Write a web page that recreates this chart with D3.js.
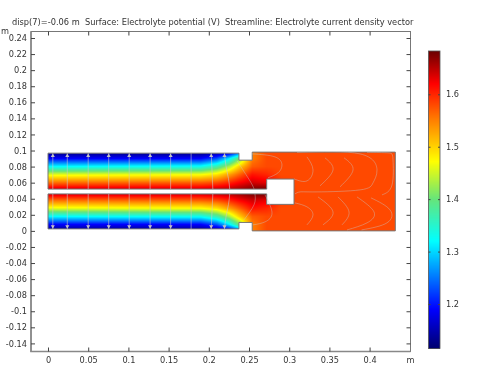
<!DOCTYPE html>
<html>
<head>
<meta charset="utf-8">
<script src="https://cdn.jsdelivr.net/npm/d3@7"></script>
<style>
  html, body { margin: 0; padding: 0; background: #fff; }
  #chart { position: relative; width: 482px; height: 366px; filter: blur(0.4px); }
  #chart canvas, #chart svg { position: absolute; left: 0; top: 0; }
  text { font-family: "DejaVu Sans", sans-serif; fill: #333; white-space: pre; }
</style>
</head>
<body>
<div id="chart">
  <canvas id="surface" width="482" height="366"></canvas>
  <svg id="plot" width="482" height="366"></svg>
</div>
<script>
const titleText = "disp(7)=-0.06 m  Surface: Electrolyte potential (V)  Streamline: Electrolyte current density vector";
const xTicks = [0, 0.05, 0.1, 0.15, 0.2, 0.25, 0.3, 0.35, 0.4];
const yTicks = [0.24, 0.22, 0.2, 0.18, 0.16, 0.14, 0.12, 0.1, 0.08, 0.06, 0.04, 0.02, 0,
  -0.02, -0.04, -0.06, -0.08, -0.1, -0.12, -0.14];
const barTicks = [1.2, 1.3, 1.4, 1.5, 1.6];

// colour bar stops, volts
const cmapV = [1.1155, 1.19, 1.255, 1.32, 1.4, 1.472, 1.55, 1.62, 1.683];
const cmapC = ["#00006f", "#0000ff", "#0080ff", "#00ffff", "#66e57a", "#ffff00", "#ff8000", "#ff0000", "#6a0000"];

// device outline in metres (channels, neck, block, hole)
const outline = [[0, .0967], [.2375, .0967], [.2375, .088], [.254, .088], [.254, .098], [.432, .098],
  [.432, 0], [.254, 0], [.254, .0105], [.2375, .0105], [.2375, .0025], [0, .0025], [0, .046],
  [.272, .046], [.272, .033], [.306, .033], [.306, .0645], [.272, .0645], [.272, .052], [0, .052]];

// potential at these positions
const gridX = [0, .19, .21, .225, .2375, .254, .272, .29, .31, .432];
const gridY = [.098, .09, .08, .07, .06, .052, .046, .038, .028, .018, .008, 0];
const v098 = [1.12, 1.12, 1.125, 1.15, 1.22, 1.55, 1.58, 1.58, 1.58, 1.58];
const v090 = [1.19, 1.19, 1.23, 1.31, 1.40, 1.55, 1.58, 1.58, 1.58, 1.58];
const v080 = [1.32, 1.33, 1.37, 1.43, 1.50, 1.57, 1.58, 1.58, 1.58, 1.58];
const v070 = [1.46, 1.47, 1.49, 1.53, 1.565, 1.61, 1.60, 1.58, 1.58, 1.58];
const v060 = [1.56, 1.57, 1.58, 1.60, 1.62, 1.64, 1.63, 1.59, 1.58, 1.58];
const v052 = [1.64, 1.64, 1.645, 1.65, 1.66, 1.675, 1.68, 1.60, 1.58, 1.58];
const v046 = [1.64, 1.64, 1.645, 1.65, 1.66, 1.675, 1.68, 1.60, 1.58, 1.58];
const v038 = [1.56, 1.57, 1.58, 1.60, 1.62, 1.64, 1.63, 1.59, 1.58, 1.58];
const v028 = [1.46, 1.47, 1.49, 1.53, 1.565, 1.61, 1.60, 1.58, 1.58, 1.58];
const v018 = [1.32, 1.33, 1.37, 1.43, 1.50, 1.57, 1.58, 1.58, 1.58, 1.58];
const v008 = [1.19, 1.19, 1.23, 1.31, 1.40, 1.55, 1.58, 1.58, 1.58, 1.58];
const v000 = [1.12, 1.12, 1.125, 1.15, 1.22, 1.55, 1.58, 1.58, 1.58, 1.58];
const potential = [v098, v090, v080, v070, v060, v052, v046, v038, v028, v018, v008, v000];

// streamlines in metres: channel ones, then the ones in the block
const channelLines = [
  [[.006, .0965], [.006, .052]], [[.024, .0965], [.024, .052]], [[.05, .0965], [.05, .052]],
  [[.0755, .0965], [.0755, .052]], [[.101, .0965], [.101, .052]], [[.127, .0965], [.127, .052]],
  [[.1525, .0965], [.1525, .052]], [[.178, .0965], [.178, .052]],
  [[.203, .0965], [.204, .075], [.205, .052]],
  [[.2195, .0965], [.2215, .08], [.2245, .065], [.226, .052]],
  [[.006, .0025], [.006, .046]], [[.024, .0025], [.024, .046]], [[.05, .0025], [.05, .046]],
  [[.0755, .0025], [.0755, .046]], [[.101, .0025], [.101, .046]], [[.127, .0025], [.127, .046]],
  [[.1525, .0025], [.1525, .046]], [[.178, .0025], [.178, .046]],
  [[.203, .0025], [.204, .024], [.205, .046]],
  [[.2195, .0025], [.2215, .018], [.2245, .033], [.226, .046]]
];
const blockLines = [
  [[.2351, .0871], [.2512, .0622], [.2562, .0523]],
  [[.2537, .0958], [.2823, .0921], [.291, .0821], [.2861, .0722], [.2736, .066]],
  [[.306, .0647], [.3221, .0622], [.3296, .0759], [.3221, .0921]],
  [[.3445, .0909], [.3545, .0759], [.3383, .056]],
  [[.3682, .0909], [.3794, .0759], [.3632, .0548]],
  [[.3097, .0977], [.3881, .0958], [.4092, .0759], [.4042, .0597], [.3881, .051], [.3346, .0485], [.3134, .0485], [.3072, .046]],
  [[.3968, .0977], [.4229, .0971], [.4291, .0884], [.4279, .0572], [.4154, .0448]],
  [[.2437, .0137], [.2562, .0324], [.2574, .046]],
  [[.2699, .0448], [.2786, .0224], [.2699, .0112], [.255, .0075]],
  [[.3072, .0348], [.3221, .0299], [.3296, .0199], [.3221, .0075]],
  [[.3358, .0423], [.3545, .0236], [.342, .0075]],
  [[.3607, .0423], [.3744, .0236], [.3657, .0075]],
  [[.3843, .0423], [.4055, .0236], [.3968, .01], [.3719, .0012]],
  [[.4017, .0411], [.4254, .0261], [.4216, .01], [.39, .0012]]
];
// where the arrowheads sit along the channels
const arrowX = [.006, .024, .05, .0755, .101, .127, .1525, .203, .2195];

const svg = d3.select("#plot");
const box = { left: 31, right: 410.5, top: 31.5, bottom: 351.5 };

const x = d3.scaleLinear().domain([0, 0.4]).range([48, 369.6]);
const y = d3.scaleLinear().domain([0.24, -0.14]).range([38, 343.4]);
const barY = d3.scaleLinear().domain([1.6, 1.2]).range([94.3, 304]);
const color = d3.scaleLinear().domain(cmapV).range(cmapC).interpolate(d3.interpolateRgb).clamp(true);

function potentialAt(mx, my) {
  const i = Math.min(gridX.length - 2, Math.max(0, d3.bisectRight(gridX, mx) - 1));
  let j = 0;
  while (j < gridY.length - 2 && my < gridY[j + 1]) j++;
  const tx = (mx - gridX[i]) / (gridX[i + 1] - gridX[i]);
  const ty = Math.max(0, Math.min(1, (gridY[j] - my) / (gridY[j] - gridY[j + 1])));
  const a = potential[j][i] * (1 - tx) + potential[j][i + 1] * tx;
  const b = potential[j + 1][i] * (1 - tx) + potential[j + 1][i + 1] * tx;
  return a * (1 - ty) + b * ty;
}

const line = d3.line().x(d => x(d[0])).y(d => y(d[1]));
const smooth = d3.line().x(d => x(d[0])).y(d => y(d[1])).curve(d3.curveNatural);

// surface + colour bar go on the canvas
const ctx = document.getElementById("surface").getContext("2d");
ctx.save();
ctx.clip(new Path2D(line(outline) + "Z"));
for (let px = Math.floor(x(0)); px < x(.432) + 1; px++) {
  for (let py = Math.floor(y(.098)); py < y(0) + 1; py++) {
    ctx.fillStyle = color(potentialAt(x.invert(px + .5), y.invert(py + .5)));
    ctx.fillRect(px, py, 1, 1);
  }
}
ctx.restore();
for (let py = 51; py < 348.5; py++) {
  ctx.fillStyle = color(barY.invert(py + .5));
  ctx.fillRect(428.5, py, 11.5, 1);
}

// frame
svg.append("rect")
  .attr("x", box.left).attr("y", box.top)
  .attr("width", box.right - box.left).attr("height", box.bottom - box.top)
  .attr("fill", "none").attr("stroke", "#777").attr("stroke-width", 1);
svg.append("path")
  .attr("d", `M${box.left},${box.top}V${box.bottom}H${box.right}`)
  .attr("fill", "none").attr("stroke", "#888").attr("stroke-width", 1.6);

// axes, ticks point inward
function styleAxis(g) {
  g.select(".domain").remove();
  g.selectAll("line").attr("stroke", "#444");
  g.selectAll("text").style("font-size", "8.2px").attr("fill", "#333");
}
svg.append("g").attr("transform", `translate(0,${box.bottom})`)
  .call(d3.axisBottom(x).tickValues(xTicks).tickFormat(d => d).tickSizeInner(-4).tickPadding(6))
  .call(styleAxis);
svg.append("g").attr("transform", `translate(0,${box.top})`)
  .call(d3.axisTop(x).tickValues(xTicks).tickFormat("").tickSizeInner(-4))
  .call(styleAxis);
svg.append("g").attr("transform", `translate(${box.left},0)`)
  .call(d3.axisLeft(y).tickValues(yTicks).tickFormat(d => d).tickSizeInner(-4).tickPadding(4))
  .call(styleAxis);
svg.append("g").attr("transform", `translate(${box.right},0)`)
  .call(d3.axisRight(y).tickValues(yTicks).tickFormat("").tickSizeInner(-4))
  .call(styleAxis);

svg.append("text").attr("x", 1).attr("y", 34).style("font-size", "8.2px").text("m");
svg.append("text").attr("x", 406.5).attr("y", 363).style("font-size", "8.2px").text("m");
svg.append("text").attr("x", 12).attr("y", 25).style("font-size", "8.25px").text(titleText);

// outline of the geometry
svg.append("path")
  .attr("d", line(outline) + "Z")
  .attr("fill", "none").attr("stroke", "#777").attr("stroke-width", 1);

// streamlines
svg.append("g").selectAll("path")
  .data(channelLines)
  .enter()
  .append("path")
  .attr("d", d => smooth(d))
  .attr("fill", "none")
  .attr("stroke", "#c8c8c8")
  .attr("stroke-opacity", 0.65)
  .attr("stroke-width", 0.9);
svg.append("g").selectAll("path")
  .data(blockLines)
  .enter()
  .append("path")
  .attr("d", d => smooth(d))
  .attr("fill", "none")
  .attr("stroke", "#c8c8c8")
  .attr("stroke-opacity", 0.45)
  .attr("stroke-width", 0.9);

// arrowheads
const head = d3.symbol().type(d3.symbolTriangle).size(7);
svg.append("g").selectAll("path.up")
  .data(arrowX)
  .enter()
  .append("path")
  .attr("d", head)
  .attr("fill", "#c4c4c4")
  .attr("transform", d => `translate(${x(d)},${y(.0935)})`);
svg.append("g").selectAll("path.down")
  .data(arrowX)
  .enter()
  .append("path")
  .attr("d", head)
  .attr("fill", "#c4c4c4")
  .attr("transform", d => `translate(${x(d)},${y(.0055)}) rotate(180)`);

// colour bar frame and ticks
svg.append("rect")
  .attr("x", 428.5).attr("y", 51).attr("width", 11.5).attr("height", 297.5)
  .attr("fill", "none").attr("stroke", "#555").attr("stroke-width", 0.8);
svg.append("g").attr("transform", "translate(440,0)")
  .call(d3.axisRight(barY).tickValues(barTicks).tickFormat(d => d).tickSizeInner(-2).tickPadding(6))
  .call(styleAxis);
svg.append("g").attr("transform", "translate(428.5,0)")
  .call(d3.axisLeft(barY).tickValues(barTicks).tickFormat("").tickSizeInner(-2))
  .call(styleAxis);
</script>
</body>
</html>
